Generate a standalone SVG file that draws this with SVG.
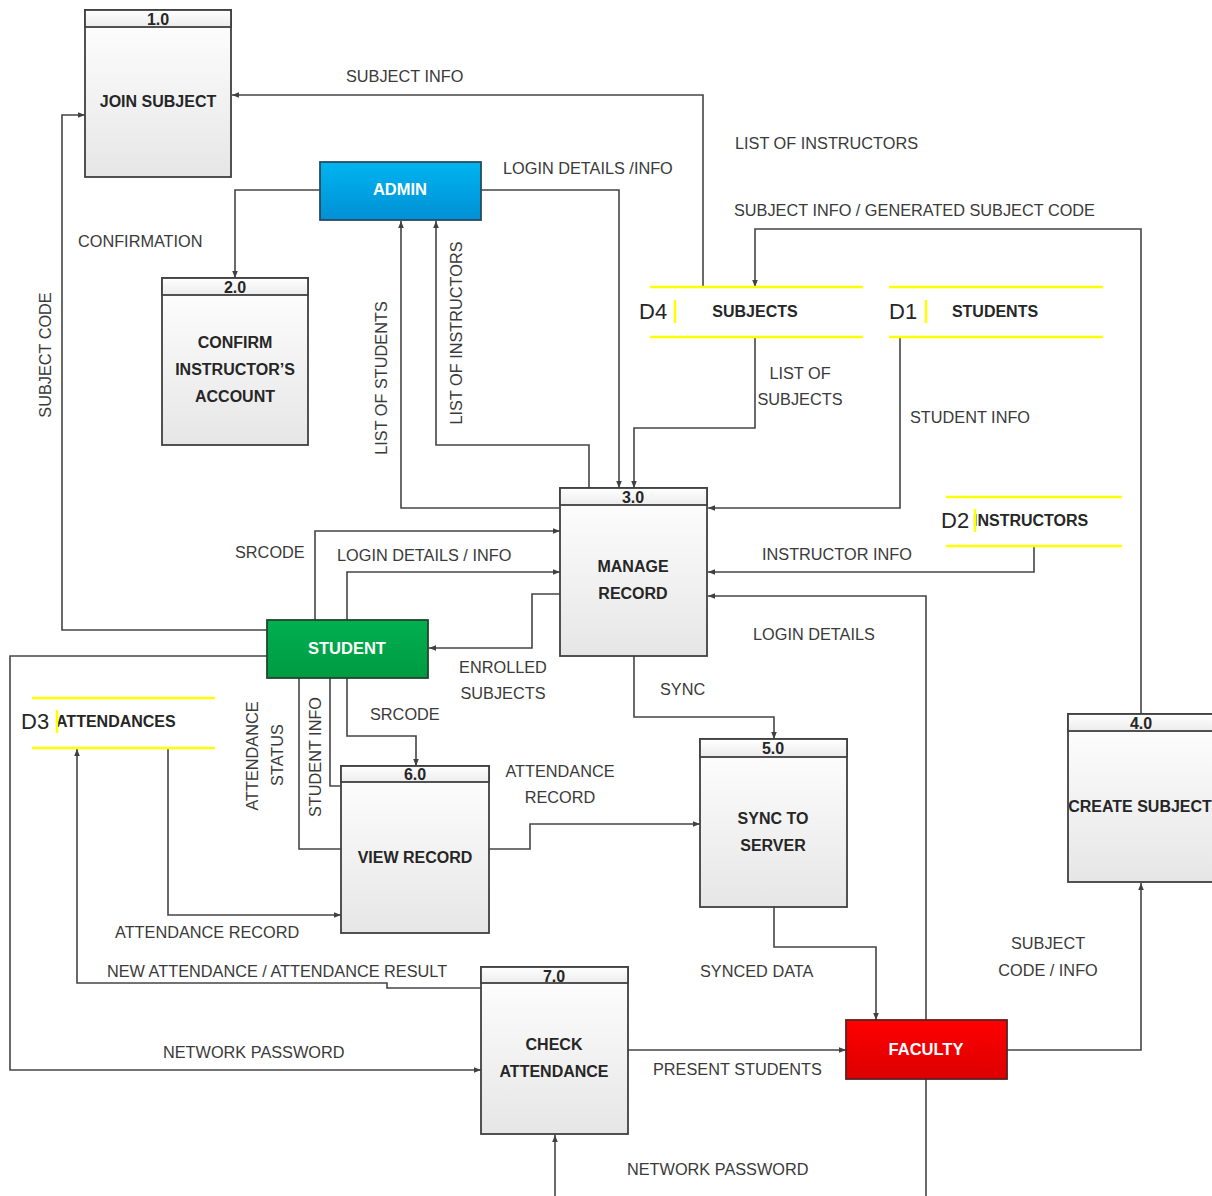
<svg xmlns="http://www.w3.org/2000/svg" width="1212" height="1196" viewBox="0 0 1212 1196">
<defs>
<linearGradient id="gBox" x1="0" y1="0" x2="0" y2="1"><stop offset="0" stop-color="#ffffff"/><stop offset="1" stop-color="#e6e6e6"/></linearGradient>
<linearGradient id="gHead" x1="0" y1="0" x2="0" y2="1"><stop offset="0" stop-color="#ffffff"/><stop offset="1" stop-color="#ececec"/></linearGradient>
<linearGradient id="gBlue" x1="0" y1="0" x2="0" y2="1"><stop offset="0" stop-color="#00b4f0"/><stop offset="1" stop-color="#0090d6"/></linearGradient>
<linearGradient id="gGreen" x1="0" y1="0" x2="0" y2="1"><stop offset="0" stop-color="#00b050"/><stop offset="1" stop-color="#009a42"/></linearGradient>
<linearGradient id="gRed" x1="0" y1="0" x2="0" y2="1"><stop offset="0" stop-color="#ff0000"/><stop offset="1" stop-color="#dc0000"/></linearGradient>
<marker id="arr" viewBox="0 0 8 8" refX="8" refY="4" markerWidth="7" markerHeight="7" markerUnits="userSpaceOnUse" orient="auto"><path d="M0,0.8 L8,4 L0,7.2 z" fill="#404040"/></marker>
<style>
.c{fill:none;stroke:#454545;stroke-width:1.6}
.a{marker-end:url(#arr)}
.box{fill:url(#gBox);stroke:#404040;stroke-width:1.8}
.hd{fill:url(#gHead);stroke:#404040;stroke-width:1.8}
.t{font-family:"Liberation Sans",Arial,sans-serif;font-size:16.3px;fill:#3a3a3a}
.b{font-family:"Liberation Sans",Arial,sans-serif;font-size:16px;font-weight:bold;fill:#262626}
.n{font-family:"Liberation Sans",Arial,sans-serif;font-size:16px;font-weight:bold;fill:#262626}
.w{font-family:"Liberation Sans",Arial,sans-serif;font-size:16.5px;font-weight:bold;fill:#ffffff}
.d{font-family:"Liberation Sans",Arial,sans-serif;font-size:22px;fill:#262626}
.y{stroke:#ffff00;stroke-width:2.5}
.m{text-anchor:middle}
</style>
</defs>
<rect width="1212" height="1196" fill="#ffffff"/>

<g id="connectors">
<path class="c a" d="M703,287 V95 H232"/>
<path class="c a" d="M267,630 H62 V115 H85"/>
<path class="c a" d="M320,190 H235 V278"/>
<path class="c a" d="M481,190 H619 V488"/>
<path class="c a" d="M560,508 H401 V221"/>
<path class="c a" d="M589,488 V445 H436 V221"/>
<path class="c a" d="M755,337 V428 H634 V488"/>
<path class="c a" d="M900,337 V508 H708"/>
<path class="c a" d="M1141,714 V229 H755 V287"/>
<path class="c a" d="M1034,546 V572 H708"/>
<path class="c a" d="M926,1196 V596 H708"/>
<path class="c a" d="M315,620 V531 H560"/>
<path class="c a" d="M347,620 V572 H560"/>
<path class="c a" d="M560,594 H532 V648 H429"/>
<path class="c a" d="M634,656 V717 H774 V739"/>
<path class="c a" d="M347,678 V736 H416 V766"/>
<path class="c" d="M330,678 V786 H341"/>
<path class="c" d="M299,678 V849 H341"/>
<path class="c a" d="M168,748 V915 H341"/>
<path class="c a" d="M489,849 H530 V824 H700"/>
<path class="c a" d="M481,988 H387 V983 H77 V749"/>
<path class="c a" d="M267,656 H10 V1070 H481"/>
<path class="c a" d="M628,1050 H846"/>
<path class="c a" d="M774,907 V947 H876 V1020"/>
<path class="c a" d="M1007,1050 H1141 V883"/>
<path class="c a" d="M555,1196 V1135"/>
</g>

<g id="labels">
<text class="t" x="346" y="82">SUBJECT INFO</text>
<text class="t" x="735" y="149">LIST OF INSTRUCTORS</text>
<text class="t" x="503" y="174">LOGIN DETAILS /INFO</text>
<text class="t" x="734" y="216">SUBJECT INFO / GENERATED SUBJECT CODE</text>
<text class="t" x="78" y="247">CONFIRMATION</text>
<text class="t m" transform="translate(51,355) rotate(-90)">SUBJECT CODE</text>
<text class="t m" transform="translate(387,378) rotate(-90)">LIST OF STUDENTS</text>
<text class="t m" transform="translate(462,333) rotate(-90)">LIST OF INSTRUCTORS</text>
<text class="t m" x="800" y="379">LIST OF</text>
<text class="t m" x="800" y="405">SUBJECTS</text>
<text class="t" x="910" y="423">STUDENT INFO</text>
<text class="t" x="762" y="560">INSTRUCTOR INFO</text>
<text class="t" x="235" y="558">SRCODE</text>
<text class="t" x="337" y="561">LOGIN DETAILS / INFO</text>
<text class="t" x="753" y="640">LOGIN DETAILS</text>
<text class="t m" x="503" y="673">ENROLLED</text>
<text class="t m" x="503" y="699">SUBJECTS</text>
<text class="t" x="660" y="695">SYNC</text>
<text class="t" x="370" y="720">SRCODE</text>
<text class="t m" transform="translate(258,756) rotate(-90)">ATTENDANCE</text>
<text class="t m" transform="translate(283,755) rotate(-90)">STATUS</text>
<text class="t m" transform="translate(321,757) rotate(-90)">STUDENT INFO</text>
<text class="t m" x="560" y="777">ATTENDANCE</text>
<text class="t m" x="560" y="803">RECORD</text>
<text class="t" x="115" y="938">ATTENDANCE RECORD</text>
<text class="t" x="107" y="977">NEW ATTENDANCE / ATTENDANCE RESULT</text>
<text class="t" x="700" y="977">SYNCED DATA</text>
<text class="t m" x="1048" y="949">SUBJECT</text>
<text class="t m" x="1048" y="976">CODE / INFO</text>
<text class="t" x="163" y="1058">NETWORK PASSWORD</text>
<text class="t" x="653" y="1075">PRESENT STUDENTS</text>
<text class="t" x="627" y="1175">NETWORK PASSWORD</text>
</g>

<g id="p1">
<rect class="box" x="85" y="10" width="146" height="167"/>
<rect class="hd" x="85" y="10" width="146" height="17"/>
<text class="n m" x="158" y="25">1.0</text>
<text class="b m" x="158" y="107">JOIN SUBJECT</text>
</g>
<g id="p2">
<rect class="box" x="162" y="278" width="146" height="167"/>
<rect class="hd" x="162" y="278" width="146" height="17"/>
<text class="n m" x="235" y="293">2.0</text>
<text class="b m" x="235" y="348">CONFIRM</text>
<text class="b m" x="235" y="375">INSTRUCTOR’S</text>
<text class="b m" x="235" y="402">ACCOUNT</text>
</g>
<g id="p3">
<rect class="box" x="560" y="488" width="147" height="168"/>
<rect class="hd" x="560" y="488" width="147" height="17"/>
<text class="n m" x="633" y="503">3.0</text>
<text class="b m" x="633" y="572">MANAGE</text>
<text class="b m" x="633" y="599">RECORD</text>
</g>
<g id="p4">
<rect class="box" x="1068" y="714" width="160" height="168"/>
<rect class="hd" x="1068" y="714" width="160" height="17"/>
<text class="n m" x="1141" y="729">4.0</text>
<text class="b m" x="1140" y="812">CREATE SUBJECT</text>
</g>
<g id="p5">
<rect class="box" x="700" y="739" width="147" height="168"/>
<rect class="hd" x="700" y="739" width="147" height="18"/>
<text class="n m" x="773" y="754">5.0</text>
<text class="b m" x="773" y="824">SYNC TO</text>
<text class="b m" x="773" y="851">SERVER</text>
</g>
<g id="p6">
<rect class="box" x="341" y="766" width="148" height="167"/>
<rect class="hd" x="341" y="766" width="148" height="16"/>
<text class="n m" x="415" y="780">6.0</text>
<text class="b m" x="415" y="863">VIEW RECORD</text>
</g>
<g id="p7">
<rect class="box" x="481" y="967" width="147" height="167"/>
<rect class="hd" x="481" y="967" width="147" height="16"/>
<text class="n m" x="554" y="982">7.0</text>
<text class="b m" x="554" y="1050">CHECK</text>
<text class="b m" x="554" y="1077">ATTENDANCE</text>
</g>

<g id="admin">
<rect x="320" y="162" width="161" height="58" fill="url(#gBlue)" stroke="#2a4a60" stroke-width="1.8"/>
<text class="w m" x="400" y="195">ADMIN</text>
</g>
<g id="student">
<rect x="267" y="620" width="161" height="58" fill="url(#gGreen)" stroke="#23452e" stroke-width="1.8"/>
<text class="w m" x="347" y="654">STUDENT</text>
</g>
<g id="faculty">
<rect x="846" y="1020" width="161" height="59" fill="url(#gRed)" stroke="#602020" stroke-width="1.8"/>
<text class="w m" x="926" y="1055">FACULTY</text>
</g>

<g id="d4">
<line class="y" x1="650" y1="287" x2="863" y2="287"/>
<line class="y" x1="650" y1="337" x2="863" y2="337"/>
<text class="d" x="639" y="319">D4</text>
<line class="y" x1="675" y1="300" x2="675" y2="323"/>
<text class="b m" x="755" y="317">SUBJECTS</text>
</g>
<g id="d1">
<line class="y" x1="889" y1="287" x2="1103" y2="287"/>
<line class="y" x1="889" y1="337" x2="1103" y2="337"/>
<text class="d" x="889" y="319">D1</text>
<line class="y" x1="926" y1="300" x2="926" y2="323"/>
<text class="b m" x="995" y="317">STUDENTS</text>
</g>
<g id="d2">
<line class="y" x1="946" y1="497" x2="1122" y2="497"/>
<line class="y" x1="946" y1="546" x2="1122" y2="546"/>
<text class="d" x="941" y="528">D2</text>
<text class="b" x="973" y="526">INSTRUCTORS</text>
<line class="y" x1="975" y1="509" x2="975" y2="532"/>
</g>
<g id="d3">
<line class="y" x1="32" y1="698" x2="215" y2="698"/>
<line class="y" x1="32" y1="748" x2="215" y2="748"/>
<text class="d" x="21" y="729">D3</text>
<text class="b" x="56" y="727">ATTENDANCES</text>
<line class="y" x1="57" y1="710" x2="57" y2="733"/>
</g>
</svg>
